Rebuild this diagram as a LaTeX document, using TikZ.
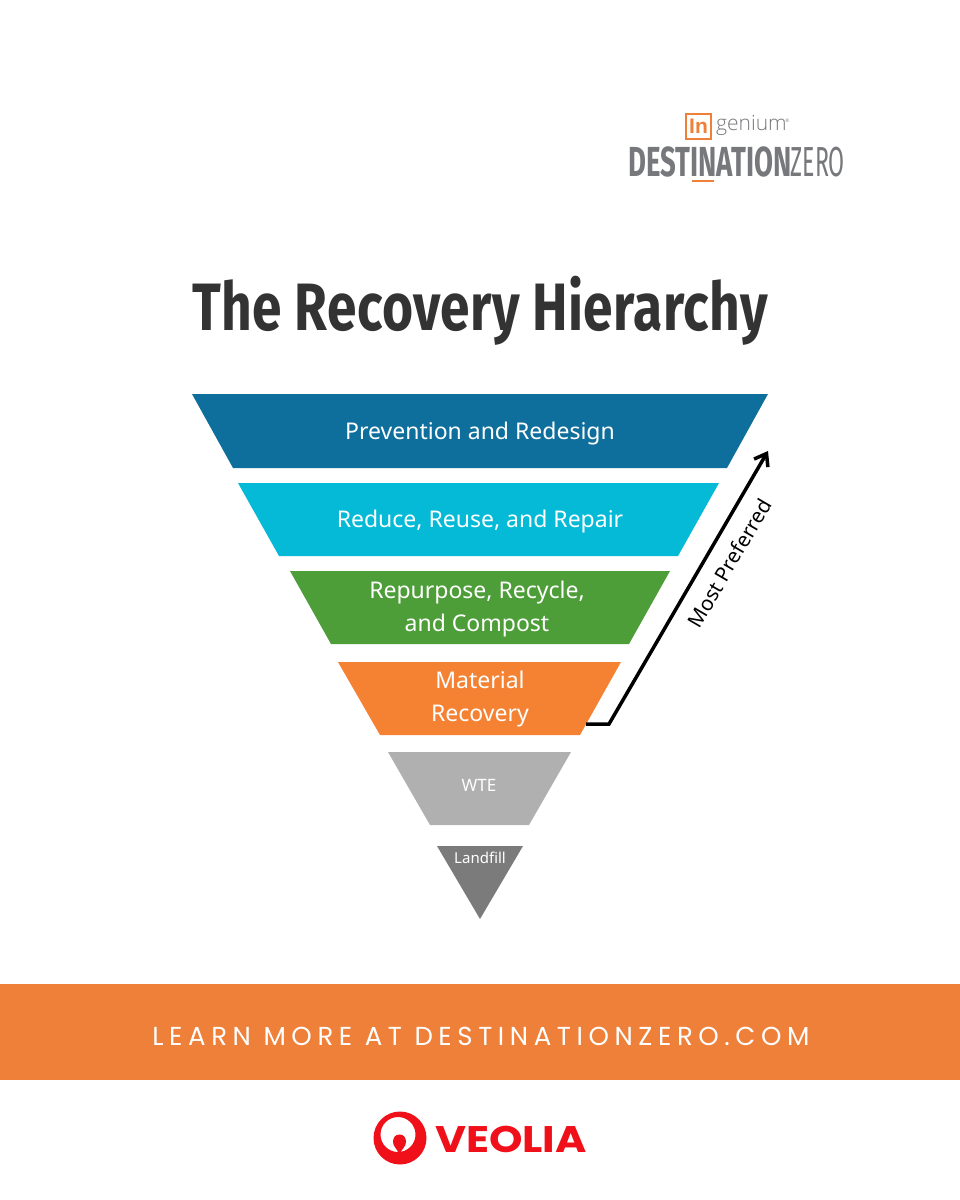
\documentclass[tikz,border=0pt]{standalone}
\usepackage{fontspec}
\setmainfont{Liberation Sans}
\newfontfamily\bodyfont{Noto Sans}
\newfontfamily\titlefont[FakeStretch=0.795]{Fira Sans}
\newfontfamily\dzfont[FakeStretch=0.655]{Fira Sans}
\newfontfamily\dzlight[FakeStretch=0.55]{Fira Sans}
\newfontfamily\popfont{Poppins}
\newfontfamily\veofont[FakeStretch=1.15]{Poppins}
\definecolor{tblue}{HTML}{0F6F9C}
\definecolor{tcyan}{HTML}{04BAD6}
\definecolor{tgreen}{HTML}{4D9E38}
\definecolor{torange}{HTML}{F58233}
\definecolor{tgrey}{HTML}{B0B0B0}
\definecolor{tdark}{HTML}{7B7B7B}
\definecolor{band}{HTML}{EE8039}
\definecolor{ink}{HTML}{333333}
\definecolor{logogrey}{HTML}{77787B}
\definecolor{vred}{HTML}{F0101A}
\usetikzlibrary{arrows.meta}
\tikzset{
  tier/.style={font=\bodyfont\fontsize{23}{33.5}\selectfont,text=white,align=center,inner sep=0pt},
  small/.style={font=\bodyfont\fontsize{17}{20}\selectfont,text=white,inner sep=0pt},
  tiny/.style={font=\bodyfont\fontsize{15}{18}\selectfont,text=white,inner sep=0pt},
  plain/.style={inner sep=0pt}
}
\begin{document}
\begin{tikzpicture}[x=1pt,y=-1pt]
\useasboundingbox (0,0) rectangle (960,1200);
\fill[white] (0,0) rectangle (960,1200);
% title
\node[plain,text=ink,font=\titlefont\bfseries\fontsize{67}{80}\selectfont] (title) at (480,311) {\addfontfeature{LetterSpace=0.6}The Recovery Hierarchy};
% tiers
\fill[tblue] (192,394)--(768,394)--(727,468)--(233,468)--cycle;
\fill[tcyan] (238,483)--(719,483)--(678,556)--(279,556)--cycle;
\fill[tgreen] (290,571)--(670,571)--(629,644)--(331,644)--cycle;
\fill[torange] (338,662)--(621,662)--(580,735)--(380,735)--cycle;
\fill[tgrey] (388,752)--(571,752)--(529,825)--(430,825)--cycle;
\fill[tdark] (437,846)--(523,846)--(480,919)--cycle;
\node[tier] (t1) at (480,434) {Prevention and Redesign};
\node[tier] (t2) at (480,522) {Reduce, Reuse, and Repair};
\node[tier] (t3) at (477,609) {Repurpose, Recycle,\\and Compost};
\node[tier] (t4) at (480,699) {Material\\Recovery};
\node[small] (t5) at (479,785) {WTE};
\node[tiny] (t6) at (480,858) {Landfill};
% arrow
\coordinate (as) at (586,724);
\coordinate (ab) at (609,724);
\coordinate (ae) at (768,451);
\draw[black,line width=3.5pt,line join=miter,-{Straight Barb[length=11pt,width=16pt,line width=3.5pt]}] (as)--(ab)--(ae);
\node[plain,rotate=59.7,font=\bodyfont\fontsize{20.5}{24}\selectfont,text=black] (mp) at (729.5,563) {Most Preferred};
% band
\fill[band] (0,984) rectangle (960,1080);
\node[plain,text=white,font=\popfont\fontsize{26}{30}\selectfont] (cta) at (481,1036) {\addfontfeature{LetterSpace=21.5}LEARN MORE AT DESTINATIONZERO.COM};
% top logo
\node[draw=band,line width=2pt,minimum width=25pt,minimum height=25pt,inner sep=0pt,text=band,font=\fontspec{Liberation Sans}\bfseries\fontsize{21}{24}\selectfont] (inbox) at (698.5,126) {In};
\node[plain,anchor=west,text=logogrey,font=\fontspec{Open Sans Light}\fontsize{21}{26}\selectfont] (gen) at (716,125) {genium};
\node[plain,anchor=west,text=logogrey,font=\fontsize{5}{6}\selectfont] (reg) at (785.5,121) {®};
\node[plain,anchor=west,text=logogrey,font=\dzfont\bfseries\fontsize{42}{48}\selectfont] (dz1) at (628,162) {DESTINATION};
\node[plain,anchor=east,text=logogrey,font=\dzlight\fontsize{42}{48}\selectfont] (dz2) at (845,162) {ZERO};
\fill[band] (692,179.5) rectangle (714,181.5);
% veolia logo
\fill[vred,even odd rule] (400,1138) circle (26.5) (398,1134.5) circle (17.5);
\fill[vred] (399.5,1134.5) .. controls (404,1134.5) and (406,1138) .. (406,1142) .. controls (406,1147) and (401,1149) .. (400.5,1154) -- (398.5,1154) .. controls (398,1149) and (393,1147) .. (393,1142) .. controls (393,1138) and (395,1134.5) .. (399.5,1134.5) -- cycle;
\node[plain,text=vred,font=\veofont\bfseries\fontsize{37}{44}\selectfont] (veo) at (511,1139) {VEOLIA};
\end{tikzpicture}
\end{document}
